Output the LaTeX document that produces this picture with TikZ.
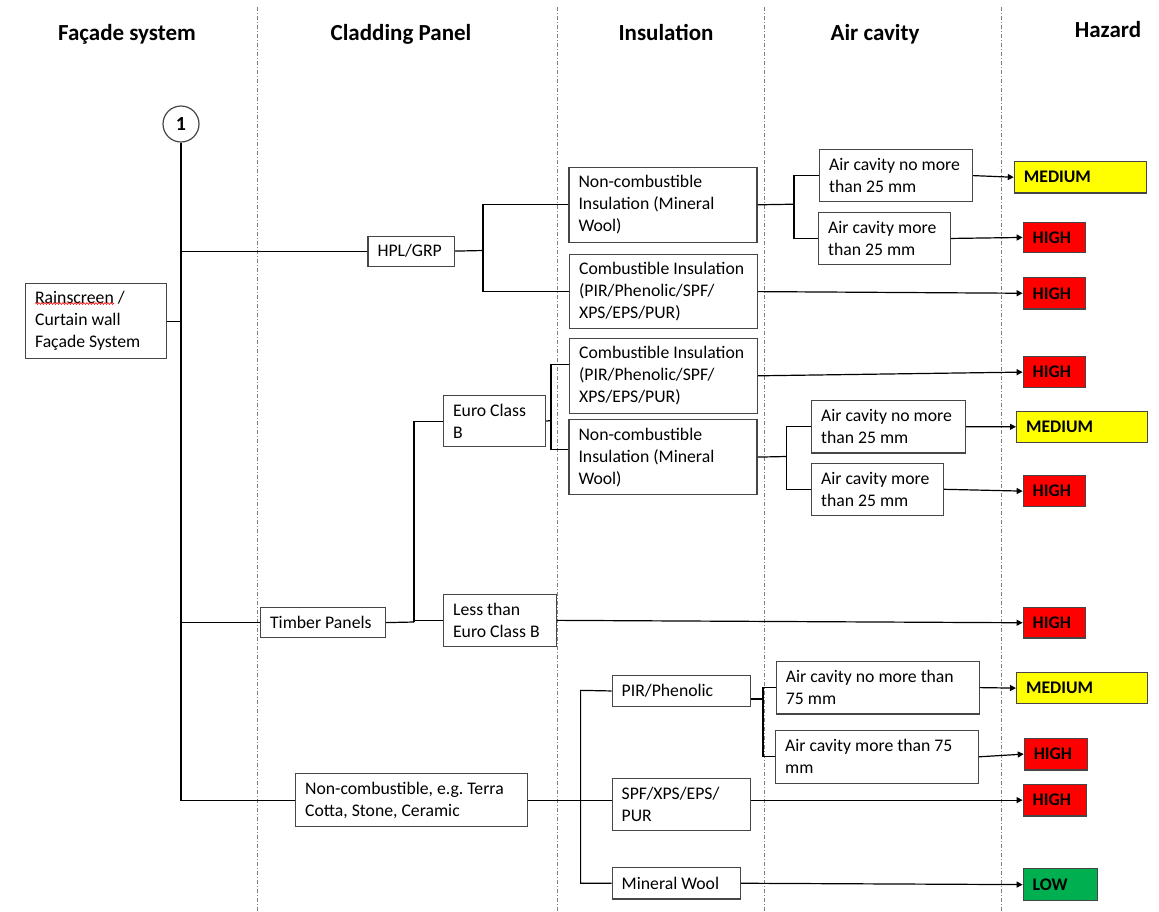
\documentclass[tikz,border=0pt]{standalone}
\usepackage{fontspec}
\setmainfont{Carlito}
\usetikzlibrary{arrows.meta,decorations.pathmorphing}
\definecolor{hzyellow}{RGB}{255,255,0}
\definecolor{hzred}{RGB}{255,0,0}
\definecolor{hzgreen}{RGB}{0,176,80}
\definecolor{edge}{RGB}{70,70,70}
\frenchspacing

\begin{document}
\begin{tikzpicture}[x=1pt,y=-1pt,
  every node/.style={font=\fontsize{17.7}{22}\selectfont},
  box/.style={draw=edge, line width=1.2pt, anchor=north west, align=left,
    inner xsep=9.5pt, inner ysep=2pt,
    execute at begin node={\frenchspacing\rightskip=0pt plus 1fil minus 40pt\spaceskip=\fontdimen2\font\relax}},
  hazard/.style={box, inner ysep=0pt, font=\fontsize{17.7}{22}\selectfont\bfseries},
  head/.style={anchor=base, font=\fontsize{23}{27}\selectfont\bfseries},
  link/.style={line width=1.2pt, black},
  arrow/.style={link, -{Triangle[length=6pt,width=6pt]}},
  divider/.style={gray, line width=0.8pt, dash pattern=on 4pt off 2pt on 1pt off 2pt}]

\useasboundingbox (0,0) rectangle (1159,911);

% column dividers
\foreach \cx in {257,557,764,1001}
  \draw[divider] (\cx,7) -- (\cx,911);

% column headings
\node[head] (hFacade)   at (127,40)  {Façade system};
\node[head] (hCladding) at (401,40)  {Cladding Panel};
\node[head] (hInsul)    at (666,40)  {Insulation};
\node[head] (hAir)      at (875,40)  {Air cavity};
\node[head] (hHazard)   at (1108,37) {Hazard};

% start marker
\node[circle, draw=edge, line width=1.2pt, minimum size=36pt, inner sep=0pt,
  font=\fontsize{20}{24}\selectfont\bfseries] (circ) at (181,124) {1};

% facade system
\node[box, text width=122pt, minimum height=75pt] (rain) at (25,283)
  {Rainscreen /\\Curtain wall\\Façade System};
\draw[red, line width=0.6pt, decorate,
  decoration={snake, amplitude=0.9pt, segment length=3pt}] (35,303.5) -- (114,303.5);

% cladding panels
\node[box, text width=67.6pt, minimum height=30pt] (hpl) at (367.4,235.5) {HPL/GRP};
\node[box, text width=106pt, minimum height=30pt] (timber) at (260,607) {Timber Panels};
\node[box, text width=83pt, minimum height=51pt] (eub) at (443,395) {Euro Class\\B};
\node[box, text width=94pt, minimum height=51.5pt] (less) at (443,594) {Less than\\Euro Class B};
\node[box, text width=213pt, minimum height=53pt] (terra) at (295,773)
  {Non-combustible, e.g. Terra\\Cotta, Stone, Ceramic};

% insulation
\node[box, text width=169pt, minimum height=75pt] (nc1) at (568.4,166.7)
  {Non-combustible\\Insulation (Mineral\\Wool)};
\node[box, text width=169pt, minimum height=74pt] (comb1) at (569,254)
  {Combustible Insulation\\(PIR/Phenolic/SPF/\\XPS/EPS/PUR)};
\node[box, text width=169pt, minimum height=75pt] (comb2) at (569,337.7)
  {Combustible Insulation\\(PIR/Phenolic/SPF/\\XPS/EPS/PUR)};
\node[box, text width=169pt, minimum height=75pt] (nc2) at (568.4,419)
  {Non-combustible\\Insulation (Mineral\\Wool)};
\node[box, text width=119pt, minimum height=30.7pt] (pir) at (611.6,675) {PIR/Phenolic};
\node[box, text width=119pt, minimum height=52.3pt] (spf) at (611.6,777.7) {SPF/XPS/EPS/\\PUR};
\node[box, text width=109pt, minimum height=31.3pt] (mw) at (611.6,867) {Mineral Wool};

% air cavity
\node[box, text width=134pt, minimum height=52pt] (a1) at (819,149) {Air cavity no more\\than 25 mm};
\node[box, text width=112.6pt, minimum height=52.3pt] (a2) at (818,211.7) {Air cavity more\\than 25 mm};
\node[box, text width=135pt, minimum height=52.3pt] (a3) at (811,400) {Air cavity no more\\than 25 mm};
\node[box, text width=113pt, minimum height=52pt] (a4) at (811,462.7) {Air cavity more\\than 25 mm};
\node[box, text width=183.8pt, minimum height=52.6pt] (a5) at (775.8,660.7) {Air cavity no more than\\75 mm};
\node[box, text width=184pt, minimum height=53pt] (a6) at (775,729.7) {Air cavity more than 75\\mm};

% hazard ratings
\node[hazard, fill=hzyellow, text width=113.2pt, minimum height=31.3pt] (med1) at (1013.8,161) {MEDIUM};
\node[hazard, fill=hzred, text width=43.4pt, minimum height=30.3pt] (high1) at (1022.6,221.7) {HIGH};
\node[hazard, fill=hzred, text width=43.4pt, minimum height=31.3pt] (high2) at (1022.6,277) {HIGH};
\node[hazard, fill=hzred, text width=43.4pt, minimum height=31pt] (high3) at (1022.6,356) {HIGH};
\node[hazard, fill=hzyellow, text width=111.7pt, minimum height=31pt] (med2) at (1016,410.7) {MEDIUM};
\node[hazard, fill=hzred, text width=43.4pt, minimum height=31pt] (high4) at (1022.6,475) {HIGH};
\node[hazard, fill=hzred, text width=43.4pt, minimum height=30.3pt] (high5) at (1022.6,607) {HIGH};
\node[hazard, fill=hzyellow, text width=112pt, minimum height=31pt] (med3) at (1016,672) {MEDIUM};
\node[hazard, fill=hzred, text width=44pt, minimum height=31.6pt] (high6) at (1023.7,737.7) {HIGH};
\node[hazard, fill=hzred, text width=44pt, minimum height=31.6pt] (high7) at (1022.6,783.7) {HIGH};
\node[hazard, fill=hzgreen, text width=55.4pt, minimum height=32pt] (low) at (1022.6,868) {LOW};

% junction points of the branch spines
\coordinate (spH)  at (483,250.5);
\coordinate (spT)  at (414,622);
\coordinate (spE)  at (551,420.5);
\coordinate (spN1) at (794,204.2);
\coordinate (spN2) at (786.5,456.5);
\coordinate (spB)  at (580.6,690.35);
\coordinate (spP)  at (763,699);

% main trunk
\draw[link] (circ.south) |- (terra.west);
\draw[link] (rain.east) -- (rain.east -| circ.south);
\draw[link] (hpl.west) -- (hpl.west -| circ.south);
\draw[link] (timber.west) -- (timber.west -| circ.south);

% HPL/GRP branch
\draw[link] (hpl.east) -- (spH);
\draw[link] (nc1.west) -| (spH) |- (comb1.west);
\draw[link] (nc1.east) -- (spN1);
\draw[link] (a1.west) -| (spN1) |- (a2.west);
\draw[arrow] (a1.east) -- (med1.west);
\draw[arrow] (a2.east) -- (high1.west);
\draw[arrow] (comb1.east) -- (high2.west);

% timber branch
\draw[link] (timber.east) -- (spT);
\draw[link] (eub.west) -| (spT) |- (less.west);
\draw[link] (eub.east) -- (spE);
\draw[link] ([yshift=11.6pt]comb2.west) -| (spE) |- ([yshift=7.5pt]nc2.west);
\draw[arrow] (comb2.east) -- (high3.west);
\draw[link] (nc2.east) -- (spN2);
\draw[link] (a3.west) -| (spN2) |- (a4.west);
\draw[arrow] (a3.east) -- (med2.west);
\draw[arrow] (a4.east) -- (high4.west);
\draw[arrow] (less.east) -- (high5.west);

% non-combustible branch
\draw[link] (terra.east) -- (terra.east -| spf.west);
\draw[link] (pir.west) -- (spB) |- (mw.west);
\draw[link] (pir.east |- spP) -- (spP);
\draw[link] (a5.west) -| (spP) |- (a6.west);
\draw[arrow] (a5.east) -- (med3.west);
\draw[arrow] (a6.east) -- (high6.west);
\draw[arrow] (spf.east |- high7.west) -- (high7.west);
\draw[arrow] (mw.east) -- (low.west);

\end{tikzpicture}
\end{document}
